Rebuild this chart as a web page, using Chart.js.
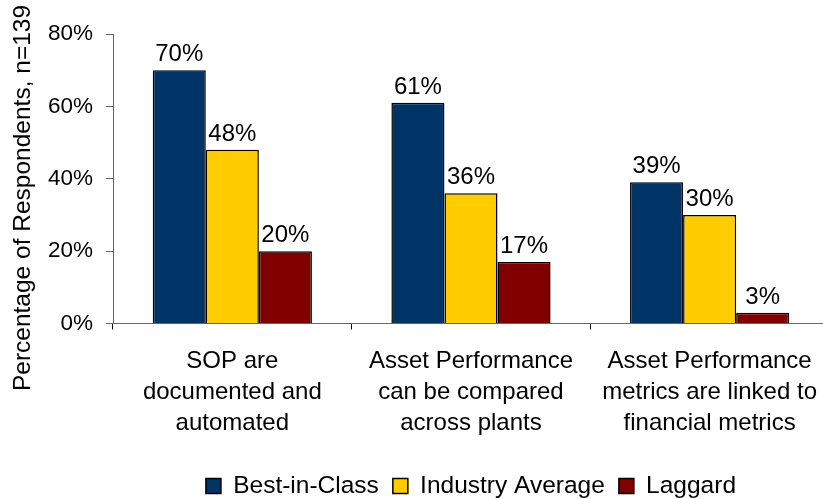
<!DOCTYPE html>
<html>
<head>
<meta charset="utf-8">
<script src="https://cdn.jsdelivr.net/npm/chart.js@4.4.1/dist/chart.umd.min.js"></script>
<style>
  html, body { margin: 0; background: #fff; overflow: hidden; }
  #grafico { display: block; }
</style>
</head>
<body>
<!-- um pouco mais largo que a janela: o eixo x do original passa da borda -->
<canvas id="grafico" width="833" height="499"></canvas>
<script>
const categorias = [
  ["SOP are", "documented and", "automated"],
  ["Asset Performance", "can be compared", "across plants"],
  ["Asset Performance", "metrics are linked to", "financial metrics"],
];
const bestInClass = [70, 61, 39];
const industryAverage = [48, 36, 30];
const laggard = [20, 17, 3];
const tituloEixoY = "Percentage of Respondents, n=139";

const fonte = "'Liberation Sans', Arial, sans-serif";

// escreve o valor em cima de cada barra
const rotulosBarras = {
  id: "rotulosBarras",
  afterDatasetsDraw(chart) {
    const ctx = chart.ctx;
    ctx.save();
    ctx.font = "24px " + fonte;
    ctx.fillStyle = "#000";
    ctx.textAlign = "center";
    ctx.textBaseline = "alphabetic";
    chart.data.datasets.forEach((ds, i) => {
      chart.getDatasetMeta(i).data.forEach((bar, j) => {
        ctx.fillText(ds.data[j] + "%", bar.x, bar.y - 9);
      });
    });
    ctx.restore();
  },
};

// titulo do eixo y desenhado na mao (fica um pouco abaixo do centro)
const tituloY = {
  id: "tituloY",
  afterDraw(chart) {
    const ctx = chart.ctx;
    ctx.save();
    ctx.translate(30, 198);
    ctx.rotate(-Math.PI / 2);
    ctx.font = "24.5px " + fonte;
    ctx.fillStyle = "#000";
    ctx.textAlign = "center";
    ctx.textBaseline = "alphabetic";
    ctx.fillText(tituloEixoY, 0, 0);
    ctx.restore();
  },
};

// legenda centrada embaixo da area do grafico, em y=484
const posLegenda = {
  id: "posLegenda",
  afterLayout(chart) {
    const leg = chart.legend;
    const h = leg.bottom - leg.top;
    leg.left = chart.chartArea.left;
    leg.right = chart.chartArea.right;
    leg.top = 484 - h / 2;
    leg.bottom = leg.top + h;
  },
};

const dados = {
  labels: categorias,
  datasets: [
    {
      label: "Best-in-Class",
      data: bestInClass,
      backgroundColor: "#003366",
      borderColor: "#000",
      borderWidth: 1.5,
    },
    {
      label: "Industry Average",
      data: industryAverage,
      backgroundColor: "#FFCC00",
      borderColor: "#000",
      borderWidth: 1.5,
    },
    {
      label: "Laggard",
      data: laggard,
      backgroundColor: "#800000",
      borderColor: "#000",
      borderWidth: 1.5,
    },
  ],
};

const config = {
  type: "bar",
  data: dados,
  plugins: [rotulosBarras, tituloY, posLegenda],
  options: {
    animation: false,
    responsive: false,
    categoryPercentage: 0.667,
    barPercentage: 1,
    layout: { padding: { top: 34, right: 0, left: 0, bottom: 0 } },
    plugins: {
      tooltip: { enabled: false },
      legend: {
        position: "bottom",
        labels: {
          color: "#000",
          font: { family: fonte, size: 24.5 },
          boxWidth: 15,
          boxHeight: 15,
          padding: 14,
        },
      },
    },
    scales: {
      x: {
        offset: true,
        border: { color: "#666", width: 1 },
        grid: { offset: true, drawOnChartArea: false, tickLength: 6, color: "#000" },
        ticks: {
          color: "#000",
          font: { family: fonte, size: 24, lineHeight: 1.3 },
          maxRotation: 0,
          padding: 16,
        },
        afterFit(scale) { scale.height = 127; },
      },
      y: {
        min: 0,
        max: 80,
        border: { color: "#666", width: 1 },
        grid: { drawOnChartArea: false, tickLength: 7, color: "#666" },
        ticks: {
          stepSize: 20,
          color: "#000",
          font: { family: fonte, size: 22.5 },
          padding: 13,
          callback: (v) => v + "%",
        },
        afterFit(scale) { scale.width = 113; },
      },
    },
  },
};

new Chart(document.getElementById("grafico"), config);
</script>
</body>
</html>
